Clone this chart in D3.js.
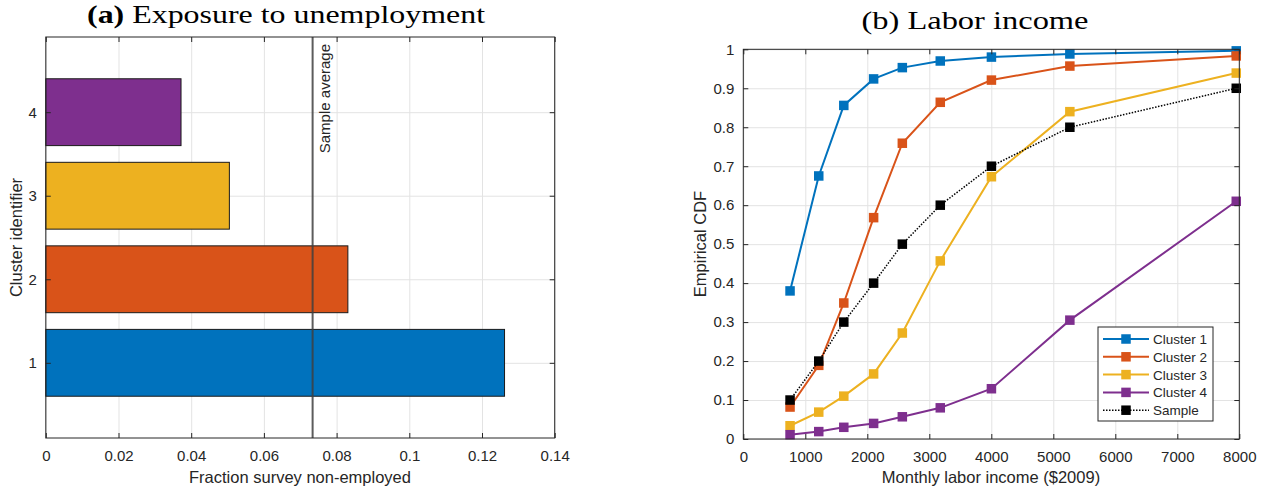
<!DOCTYPE html>
<html lang="en">
<head>
<meta charset="UTF-8">
<title>Exposure to unemployment and labor income</title>
<style>
  body { margin: 0; background: #fff; }
  svg text { font-family: "Liberation Sans", Arial, Helvetica, sans-serif; fill: #262626; }
  .title { font-family: "Liberation Serif", "Times New Roman", serif; font-size: 25px; fill: #000; }
  .tick text { font-size: 15px; }
  .grid line { stroke: #e3e3e3; stroke-width: 1; }
  .grid path { display: none; }
  .edge path { display: none; }
  .edge line { stroke: #262626; }
  .lbl { font-size: 16.5px; }
</style>
</head>
<body>
<svg id="fig" width="1266" height="490"></svg>
<script src="https://d3js.org/d3.v7.min.js"></script>
<script>
// ---- panel (a) data ----
var clusters = [1, 2, 3, 4];
var nonEmployed = [0.1262, 0.0831, 0.0505, 0.0372];
var sampleAvg = 0.0734;
var colors = ["#0072BD", "#D95319", "#EDB120", "#7E2F8E"];
var xTicksA = [0, 0.02, 0.04, 0.06, 0.08, 0.1, 0.12, 0.14];

// ---- panel (b) data ----
var income = [754, 1217, 1621, 2102, 2565, 3177, 4002, 5267, 7951];
var cluster1 = [0.380, 0.675, 0.856, 0.924, 0.953, 0.970, 0.980, 0.988, 0.996];
var cluster2 = [0.082, 0.189, 0.349, 0.568, 0.759, 0.864, 0.921, 0.957, 0.983];
var cluster3 = [0.034, 0.069, 0.110, 0.167, 0.272, 0.457, 0.673, 0.840, 0.939];
var cluster4 = [0.011, 0.019, 0.030, 0.040, 0.057, 0.080, 0.129, 0.305, 0.610];
var sample   = [0.1, 0.2, 0.3, 0.4, 0.5, 0.6, 0.7, 0.8, 0.9];
var seriesNames = ["Cluster 1", "Cluster 2", "Cluster 3", "Cluster 4", "Sample"];
var xTicksB = [0, 1000, 2000, 3000, 4000, 5000, 6000, 7000, 8000];
var yTicksB = [0, 0.1, 0.2, 0.3, 0.4, 0.5, 0.6, 0.7, 0.8, 0.9, 1];

var svg = d3.select("#fig");
var fmt = function (d) { return String(+d.toFixed(4)); };

// box with inside ticks on all four sides
function frame(g, x, y, xt, yt) {
  var x0 = x.range()[0], x1 = x.range()[1], y0 = y.range()[0], y1 = y.range()[1];
  g.append("g").attr("class", "edge").attr("transform", "translate(0," + y1 + ")")
    .call(d3.axisTop(x).tickValues(xt).tickSize(-5).tickFormat(""));
  g.append("g").attr("class", "edge").attr("transform", "translate(" + x1 + ",0)")
    .call(d3.axisRight(y).tickValues(yt).tickSize(-5).tickFormat(""));
  g.append("g").attr("class", "edge").attr("transform", "translate(0," + y0 + ")")
    .call(d3.axisBottom(x).tickValues(xt).tickSize(-5).tickPadding(12).tickFormat(fmt));
  g.append("g").attr("class", "edge").attr("transform", "translate(" + x0 + ",0)")
    .call(d3.axisLeft(y).tickValues(yt).tickSize(-5).tickPadding(9).tickFormat(fmt));
  g.append("rect").attr("x", x0).attr("y", y1).attr("width", x1 - x0).attr("height", y0 - y1)
    .attr("fill", "none").attr("stroke", "#262626").attr("stroke-width", 1);
  g.selectAll(".edge .domain").remove();
}

function grid(g, x, y, xt, yt) {
  var x0 = x.range()[0], x1 = x.range()[1], y0 = y.range()[0], y1 = y.range()[1];
  g.append("g").attr("class", "grid").attr("transform", "translate(0," + y0 + ")")
    .call(d3.axisBottom(x).tickValues(xt).tickSize(-(y0 - y1)).tickFormat(""));
  g.append("g").attr("class", "grid").attr("transform", "translate(" + x0 + ",0)")
    .call(d3.axisLeft(y).tickValues(yt).tickSize(-(x1 - x0)).tickFormat(""));
}

// ================= panel (a) =================
var xA = d3.scaleLinear().domain([0, 0.14]).range([45.8, 554.7]);
var yA = d3.scaleLinear().domain([0.1, 4.9]).range([438, 37]);
var gA = svg.append("g");
grid(gA, xA, yA, xTicksA, clusters);

var barH = yA(0) - yA(0.8);
gA.selectAll("rect.bar")
  .data(clusters)
  .enter().append("rect")
  .attr("class", "bar")
  .attr("x", xA(0))
  .attr("y", function (d) { return yA(d + 0.4); })
  .attr("width", function (d, i) { return xA(nonEmployed[i]) - xA(0); })
  .attr("height", barH)
  .attr("fill", function (d, i) { return colors[i]; })
  .attr("stroke", "#1a1a1a")
  .attr("stroke-width", 1);

gA.append("line")
  .attr("x1", xA(sampleAvg)).attr("x2", xA(sampleAvg))
  .attr("y1", yA(4.9)).attr("y2", yA(0.1))
  .attr("stroke", "#404040").attr("stroke-width", 2).attr("stroke-opacity", 0.85);

gA.append("text")
  .attr("transform", "translate(" + (xA(sampleAvg) + 17) + "," + (yA(4.9) + 7) + ") rotate(-90)")
  .attr("text-anchor", "end")
  .style("font-size", "15px")
  .text("Sample average");

frame(gA, xA, yA, xTicksA, clusters);

gA.append("text").attr("class", "lbl")
  .attr("x", 300).attr("y", 483).attr("text-anchor", "middle")
  .text("Fraction survey non-employed");
gA.append("text").attr("class", "lbl")
  .attr("transform", "translate(22,237.5) rotate(-90)").attr("text-anchor", "middle")
  .text("Cluster identifier");

var tA = svg.append("text").attr("class", "title")
  .attr("x", 286).attr("y", 23).attr("text-anchor", "middle")
  .attr("textLength", 398).attr("lengthAdjust", "spacingAndGlyphs");
tA.append("tspan").style("font-weight", "bold").text("(a)");
tA.append("tspan").text(" Exposure to unemployment");

// ================= panel (b) =================
var xB = d3.scaleLinear().domain([0, 8000]).range([743.3, 1239.3]);
var yB = d3.scaleLinear().domain([0, 1]).range([439, 49.3]);
var gB = svg.append("g");
grid(gB, xB, yB, xTicksB, yTicksB);

var series = [cluster1, cluster2, cluster3, cluster4, sample];
var sColors = colors.concat(["#000000"]);
var line = d3.line()
  .x(function (d, i) { return xB(income[i]); })
  .y(function (d) { return yB(d); });

var ms = 9.5;
series.forEach(function (s, k) {
  var dotted = k === 4;
  gB.append("path")
    .attr("d", line(s))
    .attr("fill", "none")
    .attr("stroke", sColors[k])
    .attr("stroke-width", dotted ? 1.5 : 2)
    .attr("stroke-dasharray", dotted ? "1.5,1.5" : null);
  gB.selectAll(null)
    .data(s)
    .enter().append("rect")
    .attr("x", function (d, i) { return xB(income[i]) - ms / 2; })
    .attr("y", function (d) { return yB(d) - ms / 2; })
    .attr("width", ms).attr("height", ms)
    .attr("fill", sColors[k]);
});

frame(gB, xB, yB, xTicksB, yTicksB);

gB.append("text").attr("class", "lbl")
  .attr("x", 991).attr("y", 483).attr("text-anchor", "middle")
  .text("Monthly labor income ($2009)");
gB.append("text").attr("class", "lbl")
  .attr("transform", "translate(706,244) rotate(-90)").attr("text-anchor", "middle")
  .text("Empirical CDF");

svg.append("text").attr("class", "title")
  .attr("x", 975).attr("y", 29).attr("text-anchor", "middle")
  .attr("textLength", 227).attr("lengthAdjust", "spacingAndGlyphs")
  .text("(b) Labor income");

// legend
var lg = gB.append("g").attr("transform", "translate(1098,327)");
lg.append("rect").attr("width", 115).attr("height", 94)
  .attr("fill", "#fff").attr("stroke", "#262626").attr("stroke-width", 1);
seriesNames.forEach(function (name, k) {
  var yy = 12 + k * 17.8;
  lg.append("line").attr("x1", 5).attr("x2", 51).attr("y1", yy).attr("y2", yy)
    .attr("stroke", sColors[k]).attr("stroke-width", k === 4 ? 1.5 : 2)
    .attr("stroke-dasharray", k === 4 ? "1.5,1.5" : null);
  lg.append("rect").attr("x", 28 - ms / 2).attr("y", yy - ms / 2)
    .attr("width", ms).attr("height", ms).attr("fill", sColors[k]);
  lg.append("text").attr("x", 55).attr("y", yy + 5)
    .style("font-size", "13.5px").text(name);
});
</script>
</body>
</html>
